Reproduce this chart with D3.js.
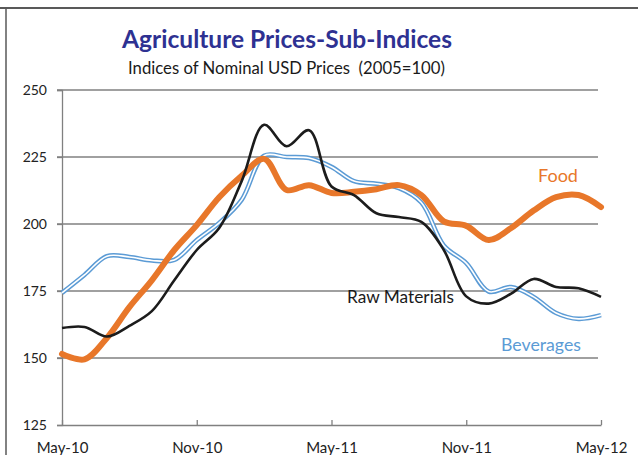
<!DOCTYPE html>
<html>
<head>
<meta charset="utf-8">
<script src="https://cdn.jsdelivr.net/npm/d3@7"></script>
<style>
  html, body { margin: 0; padding: 0; background: #fff; }
  svg { display: block; }
  text { font-family: Lato, "Open Sans", sans-serif; }
</style>
</head>
<body>
<svg id="chart" width="638" height="455"></svg>
<script>
const months = ["May-10","Jun-10","Jul-10","Aug-10","Sep-10","Oct-10","Nov-10","Dec-10",
  "Jan-11","Feb-11","Mar-11","Apr-11","May-11","Jun-11","Jul-11","Aug-11","Sep-11","Oct-11",
  "Nov-11","Dec-11","Jan-12","Feb-12","Mar-12","Apr-12","May-12"];
const xTickLabels = ["May-10","Nov-10","May-11","Nov-11","May-12"];
const yTickValues = [125, 150, 175, 200, 225, 250];

const food = [151.5, 149.5, 157.5, 169, 179, 190.3, 199.6, 210, 218, 224.3, 212.7, 214.5,
  211.6, 212, 213, 214.5, 210.8, 201, 199.3, 194, 198.5, 205, 210, 210.8, 206.3];
const rawMaterials = [161.2, 161.6, 158, 162, 167.5, 179, 190.3, 198.5, 216, 237, 229, 235,
  214, 210.8, 204, 202.6, 200.8, 190.3, 173, 170.3, 174, 179.5, 176.5, 176, 172.8];
const beverages = [174.3, 181, 188, 187.7, 186.4, 186.6, 194, 200.4, 209, 225.5, 225, 224.6,
  221.3, 216, 215, 213.4, 208, 192, 185.4, 174.8, 176.5, 172.8, 166.8, 164.6, 166];

const title = "Agriculture Prices-Sub-Indices";
const subtitle = "Indices of Nominal USD Prices  (2005=100)";

const svg = d3.select("#chart");

// frame
svg.append("line").attr("x1", 0).attr("x2", 638).attr("y1", 8).attr("y2", 8)
  .attr("stroke", "#595959").attr("stroke-width", 2);
svg.append("line").attr("x1", 6).attr("x2", 6).attr("y1", 8).attr("y2", 455)
  .attr("stroke", "#595959").attr("stroke-width", 1.5);

const x = d3.scalePoint().domain(months).range([62, 601]);
const y = d3.scaleLinear().domain([125, 250]).range([425, 90]);

// gridlines
svg.append("g").selectAll("line").data(yTickValues.filter(v => v > 125)).join("line")
  .attr("x1", 57).attr("x2", 598)
  .attr("y1", d => y(d)).attr("y2", d => y(d))
  .attr("stroke", "#808080").attr("stroke-width", 1.3);

// y axis
const yAxis = svg.append("g").attr("transform", "translate(62,0)")
  .call(d3.axisLeft(y).tickValues(yTickValues).tickSize(5).tickPadding(10));
yAxis.select(".domain").attr("stroke", "#808080").attr("stroke-width", 1.3);
yAxis.selectAll(".tick line").attr("stroke", "#808080").attr("stroke-width", 1.3);
yAxis.selectAll("text").attr("font-size", 14).attr("fill", "#222")
  .style("font-family", "Lato, sans-serif");

// x axis
const xAxis = svg.append("g").attr("transform", "translate(0,425)")
  .call(d3.axisBottom(x).tickValues(xTickLabels).tickSizeInner(-5).tickSizeOuter(0).tickPadding(17));
xAxis.select(".domain").attr("stroke", "#808080").attr("stroke-width", 1.3);
xAxis.selectAll(".tick line").attr("stroke", "#808080").attr("stroke-width", 1.3);
xAxis.selectAll("text").attr("font-size", 15).attr("fill", "#222")
  .style("font-family", "Lato, sans-serif");

const line = d3.line()
  .x((d, i) => x(months[i]))
  .y(d => y(d))
  .curve(d3.curveCatmullRom.alpha(0.5));

// beverages: double line
svg.append("path").attr("d", line(beverages)).attr("fill", "none")
  .attr("stroke", "#5B9BD5").attr("stroke-width", 4.6).attr("stroke-linejoin", "round");
svg.append("path").attr("d", line(beverages)).attr("fill", "none")
  .attr("stroke", "#fff").attr("stroke-width", 1.6).attr("stroke-linejoin", "round");
// food
svg.append("path").attr("d", line(food)).attr("fill", "none")
  .attr("stroke", "#E8772A").attr("stroke-width", 6).attr("stroke-linecap", "round")
  .attr("stroke-linejoin", "round");
// raw materials
svg.append("path").attr("d", line(rawMaterials)).attr("fill", "none")
  .attr("stroke", "#1c1c1c").attr("stroke-width", 2.6).attr("stroke-linejoin", "round");

function fit(sel, w) {
  const l = sel.node().getComputedTextLength();
  sel.attr("font-size", parseFloat(sel.attr("font-size")) * w / l);
  return sel;
}

fit(svg.append("text").text(title).attr("x", 287).attr("y", 48)
  .attr("text-anchor", "middle").attr("font-weight", "bold").attr("font-size", 22)
  .attr("fill", "#2E3192"), 330);
fit(svg.append("text").text(subtitle).attr("x", 286.5).attr("y", 74)
  .attr("text-anchor", "middle").attr("font-size", 15).attr("fill", "#1a1a1a")
  .style("white-space", "pre").attr("xml:space", "preserve"), 317);

// series labels
fit(svg.append("text").text("Food").attr("x", 538).attr("y", 182)
  .attr("font-size", 18).attr("fill", "#E8772A"), 40);
fit(svg.append("text").text("Raw Materials").attr("x", 347).attr("y", 303)
  .attr("font-size", 16).attr("fill", "#1a1a1a"), 107);
fit(svg.append("text").text("Beverages").attr("x", 501).attr("y", 351)
  .attr("font-size", 17).attr("fill", "#5B9BD5"), 80);
</script>
</body>
</html>
